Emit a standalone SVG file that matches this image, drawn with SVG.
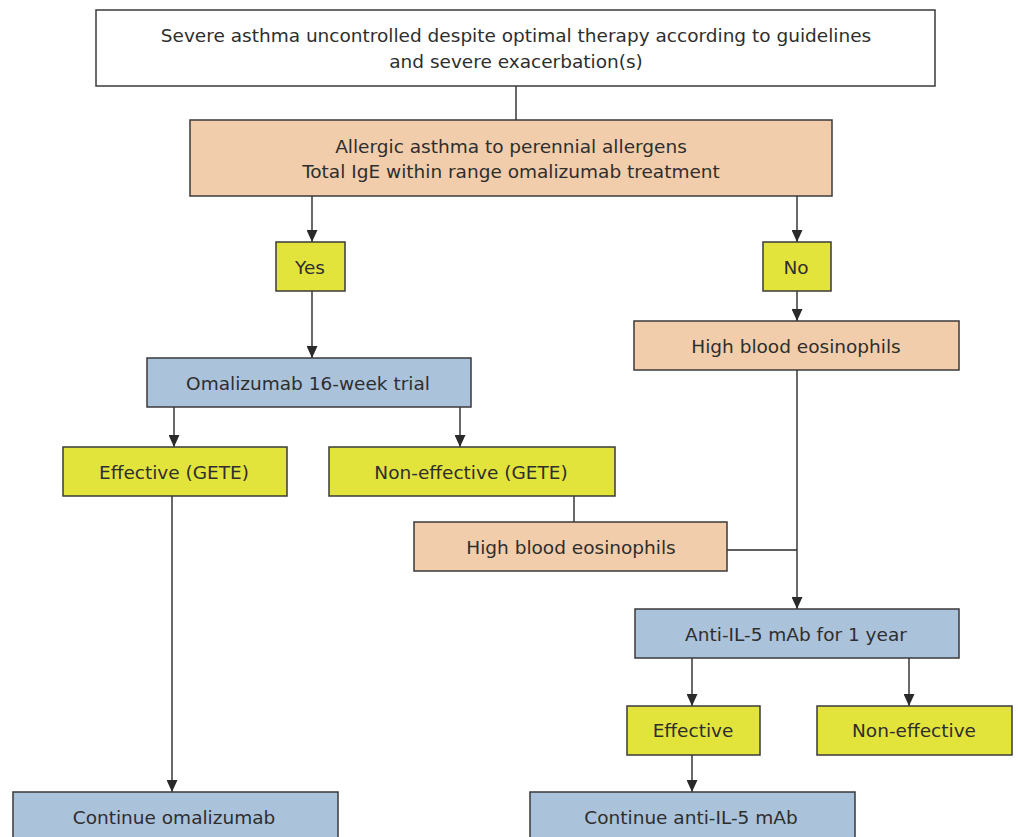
<svg xmlns="http://www.w3.org/2000/svg" width="1018" height="837" viewBox="0 0 1018 837">
<style>
.box{stroke:#3a3a3a;stroke-width:1.5}
.w{fill:#ffffff}
.o{fill:#f1cdab}
.y{fill:#e3e43b}
.b{fill:#abc2db}
text{font-family:"DejaVu Sans","Liberation Sans",sans-serif;font-size:18.5px;fill:#2e2e2e;text-anchor:middle}
.c{stroke:#2a2a2a;stroke-width:1.4;fill:none}
</style>
<defs>
<marker id="ah" viewBox="0 0 12 11" refX="12" refY="5.5" markerWidth="12" markerHeight="11" markerUnits="userSpaceOnUse" orient="auto">
<path d="M0,0 L12,5.5 L0,11 Z" fill="#2a2a2a"/>
</marker>
</defs>
<rect width="1018" height="837" fill="#ffffff"/>
<g id="connectors">
<path class="c" d="M516,86 V120"/>
<path class="c" d="M312,196 V242" marker-end="url(#ah)"/>
<path class="c" d="M797,196 V242" marker-end="url(#ah)"/>
<path class="c" d="M312,291 V358" marker-end="url(#ah)"/>
<path class="c" d="M797,291 V321" marker-end="url(#ah)"/>
<path class="c" d="M174,407 V447" marker-end="url(#ah)"/>
<path class="c" d="M460,407 V447" marker-end="url(#ah)"/>
<path class="c" d="M574,496 V522"/>
<path class="c" d="M727,550 H797"/>
<path class="c" d="M797,370 V609" marker-end="url(#ah)"/>
<path class="c" d="M692,658 V706" marker-end="url(#ah)"/>
<path class="c" d="M909,658 V706" marker-end="url(#ah)"/>
<path class="c" d="M692,755 V792" marker-end="url(#ah)"/>
<path class="c" d="M172,496 V792" marker-end="url(#ah)"/>
</g>
<g id="n-top"><rect class="box w" x="96" y="10" width="839" height="76"/>
<text x="516" y="42">Severe asthma uncontrolled despite optimal therapy according to guidelines</text>
<text x="516" y="68">and severe exacerbation(s)</text></g>
<g id="n-allergic"><rect class="box o" x="190" y="120" width="642" height="76"/>
<text x="511" y="153">Allergic asthma to perennial allergens</text>
<text x="511" y="178">Total IgE within range omalizumab treatment</text></g>
<g id="n-yes"><rect class="box y" x="276" y="242" width="69" height="49"/>
<text x="310" y="274">Yes</text></g>
<g id="n-no"><rect class="box y" x="763" y="242" width="68" height="49"/>
<text x="796" y="274">No</text></g>
<g id="n-oma"><rect class="box b" x="147" y="358" width="324" height="49"/>
<text x="308" y="390">Omalizumab 16-week trial</text></g>
<g id="n-eos1"><rect class="box o" x="634" y="321" width="325" height="49"/>
<text x="796" y="353">High blood eosinophils</text></g>
<g id="n-eff-gete"><rect class="box y" x="63" y="447" width="224" height="49"/>
<text x="174" y="479">Effective (GETE)</text></g>
<g id="n-noneff-gete"><rect class="box y" x="329" y="447" width="286" height="49"/>
<text x="471" y="479">Non-effective (GETE)</text></g>
<g id="n-eos2"><rect class="box o" x="414" y="522" width="313" height="49"/>
<text x="571" y="554">High blood eosinophils</text></g>
<g id="n-il5"><rect class="box b" x="635" y="609" width="324" height="49"/>
<text x="796" y="641">Anti-IL-5 mAb for 1 year</text></g>
<g id="n-eff"><rect class="box y" x="627" y="706" width="133" height="49"/>
<text x="693" y="737">Effective</text></g>
<g id="n-noneff"><rect class="box y" x="817" y="706" width="195" height="49"/>
<text x="914" y="737">Non-effective</text></g>
<g id="n-cont-il5"><rect class="box b" x="530" y="792" width="325" height="60"/>
<text x="691" y="824">Continue anti-IL-5 mAb</text></g>
<g id="n-cont-oma"><rect class="box b" x="13" y="792" width="325" height="60"/>
<text x="174" y="824">Continue omalizumab</text></g>
</svg>
